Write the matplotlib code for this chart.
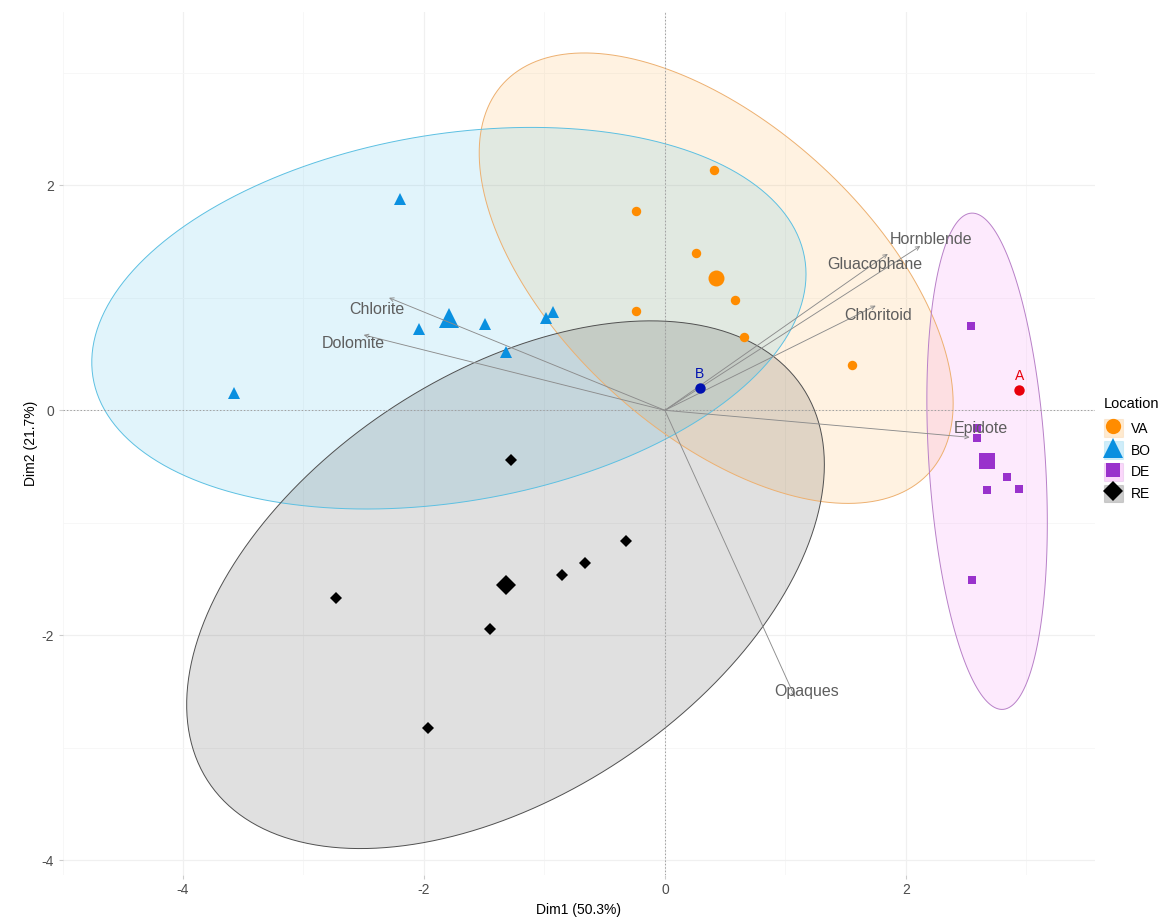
import numpy as np
import matplotlib
matplotlib.use("Agg")
import matplotlib.pyplot as plt
from matplotlib.lines import Line2D
from matplotlib.patches import Polygon, Rectangle
from matplotlib.legend_handler import HandlerTuple

plt.rcParams['font.family'] = ['Liberation Sans', 'DejaVu Sans']
plt.rcParams['axes.unicode_minus'] = False

# ---- individuals (PCA scores) per location ----
groups = ["VA", "BO", "DE", "RE"]
va_x = [0.41, -0.24, 0.26, 0.58, -0.24, 0.66, 1.55]
va_y = [2.14, 1.77, 1.40, 0.98, 0.88, 0.65, 0.40]
bo_x = [-2.20, -3.58, -2.04, -1.49, -0.99, -0.93, -1.32]
bo_y = [1.88, 0.15, 0.72, 0.77, 0.82, 0.87, 0.52]
de_x = [2.54, 2.59, 2.59, 2.84, 2.67, 2.94, 2.55]
de_y = [0.75, -0.16, -0.25, -0.59, -0.71, -0.70, -1.51]
re_x = [-1.28, -2.73, -0.32, -0.66, -0.85, -1.45, -1.97]
re_y = [-0.44, -1.67, -1.16, -1.36, -1.46, -1.94, -2.82]

# ---- supplementary samples ----
supp_names = ["A", "B"]
supp_x = [2.94, 0.29]
supp_y = [0.18, 0.20]

# ---- variables (loadings) ----
variables = ["Hornblende", "Gluacophane", "Chloritoid", "Chlorite",
             "Dolomite", "Epidote", "Opaques"]
var_x = [2.12, 1.85, 1.75, -2.29, -2.50, 2.53, 1.08]
var_y = [1.46, 1.39, 0.93, 1.00, 0.67, -0.24, -2.55]
label_x = [2.21, 1.74, 1.77, -2.39, -2.59, 2.62, 1.18]
label_y = [1.52, 1.30, 0.84, 0.90, 0.59, -0.16, -2.50]

xlab = "Dim1 (50.3%)"
ylab = "Dim2 (21.7%)"

# ---- styles ----
pt_colors = ["#FF8C00", "#0A90E0", "#9932CC", "#000000"]
fill_colors = ["#FF9A10", "#10A8E6", "#EE38EE", "#000000"]
fill_alpha = [0.12, 0.12, 0.10, 0.12]
edge_colors = ["#EDB070", "#5CC0E2", "#B880C8", "#505050"]
markers = ["o", "^", "s", "D"]
small_ms = [6.8, 8.0, 6.2, 5.8]
big_ms = [11.5, 15.0, 11.5, 10.5]
leg_ms = [11, 14, 10, 10]
supp_colors = ["#E8000B", "#0010B0"]

fig = plt.figure(figsize=(11.66, 9.22), dpi=100)
W, H = 1166, 922
left, right, top, bottom = 62.5, 1095, 12, 875
ax = fig.add_axes([left / W, (H - bottom) / H, (right - left) / W, (bottom - top) / H])
ax.set_xlim(-5.0, 3.57)
ax.set_ylim(-4.13, 3.54)

for s in ax.spines.values():
    s.set_visible(False)
ax.set_xticks([-4, -2, 0, 2])
ax.set_yticks([-4, -2, 0, 2])
ax.set_xticks([-5, -3, -1, 1, 3], minor=True)
ax.set_yticks([-3, -1, 1, 3], minor=True)
ax.grid(which="major", color="#F0F0F0", linewidth=0.9, zorder=0)
ax.grid(which="minor", color="#F6F6F6", linewidth=0.6, zorder=0)
ax.set_axisbelow(True)
ax.tick_params(which="major", length=3, color="#CCCCCC", labelcolor="#4D4D4D",
               labelsize=10, pad=3)
ax.tick_params(which="minor", length=0)
ax.set_xlabel(xlab, fontsize=10, labelpad=4)
ax.set_ylabel(ylab, fontsize=10, labelpad=3)

# reference lines through the origin
ax.axhline(0, color="#A0A0A0", linewidth=0.7, linestyle=(0, (1.5, 2)), zorder=1.5)
ax.axvline(0, color="#A0A0A0", linewidth=0.7, linestyle=(0, (1.5, 2)), zorder=1.5)

xs = [va_x, bo_x, de_x, re_x]
ys = [va_y, bo_y, de_y, re_y]

# 95% normal confidence ellipses (as in ggplot2 stat_ellipse, type="norm")
theta = np.linspace(0, 2 * np.pi, 200)
circle = np.column_stack([np.cos(theta), np.sin(theta)])
level = 0.95
for i in range(len(groups)):
    pts = np.column_stack([xs[i], ys[i]])
    n = len(pts)
    center = pts.mean(axis=0)
    cov = np.cov(pts, rowvar=False, ddof=1)
    dfd = n - 1
    fq = (dfd / 2.0) * ((1 - level) ** (-2.0 / dfd) - 1)
    radius = np.sqrt(2 * fq)
    R = np.linalg.cholesky(cov).T
    ell = center + radius * circle @ R
    ax.add_patch(Polygon(ell, closed=True, facecolor=fill_colors[i],
                         alpha=fill_alpha[i], edgecolor="none", zorder=1))
    ax.add_patch(Polygon(ell, closed=True, facecolor="none",
                         edgecolor=edge_colors[i], linewidth=0.7, zorder=1.2))

# individuals and group centroids
for i in range(len(groups)):
    ax.plot(xs[i], ys[i], linestyle="none", marker=markers[i], ms=small_ms[i],
            color=pt_colors[i], markeredgewidth=0, zorder=3)
    ax.plot(np.mean(xs[i]), np.mean(ys[i]), linestyle="none", marker=markers[i],
            ms=big_ms[i], color=pt_colors[i], markeredgewidth=0, zorder=3)

# supplementary samples
for name, x, y, c in zip(supp_names, supp_x, supp_y, supp_colors):
    ax.plot(x, y, "o", ms=7.5, color=c, markeredgewidth=0, zorder=4.5)
    ax.annotate(name, (x, y), xytext=(0, 5), textcoords="offset points",
                ha="center", va="bottom", color=c, fontsize=10, zorder=4.5)

# variable arrows
for name, vx, vy, lx, ly in zip(variables, var_x, var_y, label_x, label_y):
    ax.annotate("", xy=(vx, vy), xytext=(0, 0),
                arrowprops=dict(arrowstyle="->", color="#8C8C8C", lw=0.65,
                                mutation_scale=7, shrinkA=0, shrinkB=0),
                zorder=4)
    ax.text(lx, ly, name, ha="center", va="center", fontsize=11.5,
            color="#5E5E5E", zorder=5)

# legend
handles = []
for i in range(len(groups)):
    box = Rectangle((0, 0), 1, 1, facecolor=fill_colors[i], alpha=0.2,
                    edgecolor=edge_colors[i], linewidth=0.8)
    mk = Line2D([], [], linestyle="none", marker=markers[i],
                ms=leg_ms[i], color=pt_colors[i], markeredgewidth=0)
    handles.append((box, mk))
leg = fig.legend(handles, groups, title="Location", loc="upper left",
                 bbox_to_anchor=(1104 / W, 1 - 397 / H), frameon=False,
                 fontsize=10, title_fontsize=10.5, handlelength=1.35,
                 handleheight=1.6, handletextpad=0.6, labelspacing=0.28,
                 borderpad=0, borderaxespad=0,
                 handler_map={tuple: HandlerTuple(ndivide=1, pad=0)})
leg._legend_box.align = "left"
leg._legend_box.sep = 6

fig.savefig("out.png", dpi=100)
